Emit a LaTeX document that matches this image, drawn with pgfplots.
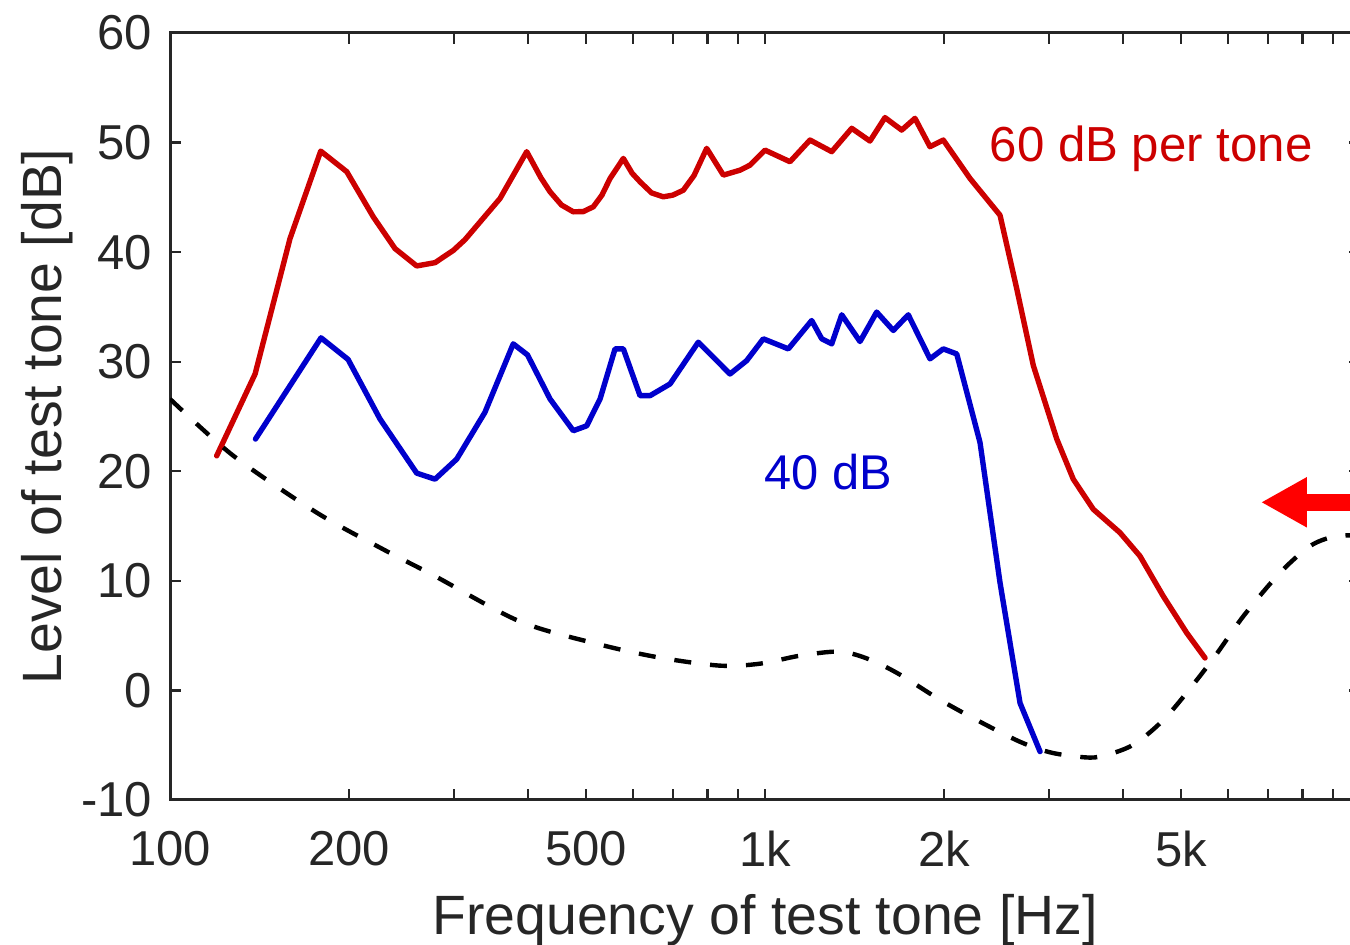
\documentclass[border=0pt]{standalone}
\usepackage{fontspec}
\setmainfont{Liberation Sans}
\usepackage{pgfplots}
\pgfplotsset{compat=1.18}
\usetikzlibrary{arrows.meta}
\definecolor{cred}{RGB}{204,0,0}
\definecolor{cblue}{RGB}{0,0,204}
\definecolor{axgray}{RGB}{38,38,38}
\begin{document}
\begin{tikzpicture}
\begin{axis}[
  scale only axis, width=595pt, height=383.5pt,
  at={(0,0)}, anchor=south west,
  xmode=log, xmin=100, xmax=10000, ymin=-10, ymax=60,
  xtick={100,200,500,1000,2000,5000,10000},
  xticklabels={100,200,500,1k,2k,5k,{}},
  minor xtick={300,400,600,700,800,900,3000,4000,6000,7000,8000,9000},
  ytick={-10,0,10,20,30,40,50,60},
  tick align=inside,
  major tick length=5.5pt, minor tick length=5.5pt,
  axis line style={axgray, line width=1.5pt},
  every tick/.style={axgray, line width=1.2pt},
  tick label style={font=\fontsize{24.5}{28}\selectfont, text=axgray},
  xticklabel style={yshift=-12pt},
  yticklabel style={xshift=-5.5pt},
  /pgf/number format/assume math mode=true,
  xlabel={Frequency of test tone [Hz]},
  ylabel={Level of test tone [dB]},
  label style={font=\fontsize{27.7}{32}\selectfont, text=axgray},
  xlabel style={at={(axis description cs:0.5,-0.176)}, anchor=base},
  ylabel style={at={(axis description cs:-0.0908,0.5)}, anchor=base},
]
% 60 dB per tone
\addplot[cred, line width=2.7pt, line join=round, line cap=round] coordinates {
(119.8,21.41) (139.0,28.88) (159.1,41.23) (179.2,49.22) (198.2,47.34)
(219.6,43.22) (238.9,40.32) (259.8,38.74) (278.9,39.04) (299.4,40.16)
(313.2,41.14) (358.6,44.89) (397.7,49.17) (420,46.8) (435.2,45.51) (455,44.3) (476.2,43.68)
(495,43.7) (514.6,44.14) (532,45.2) (549.0,46.72) (578.0,48.55) (598,47.2) (616.6,46.42) (645,45.4) (674.7,45.05)
(700,45.2) (729.0,45.65) (760,47.0) (798.1,49.47) (851.1,47.03) (907.8,47.48) (943.6,47.94)
(1000,49.31) (1101.5,48.25) (1190.2,50.23) (1294.6,49.17) (1398.7,51.30)
(1501.1,50.14) (1590.9,52.28) (1697.3,51.14) (1786.9,52.21) (1893.7,49.62)
(1993.7,50.23) (2211,46.72) (2483,43.37) (2649,36.66) (2825,29.64)
(3093,22.94) (3297,19.28) (3563,16.53) (3950,14.40) (4268,12.26)
(4670,8.60) (5114,5.25) (5490,2.96)
};
% 40 dB
\addplot[cblue, line width=2.7pt, line join=round, line cap=round] coordinates {
(139.2,22.94) (179.4,32.18) (199.2,30.21) (225.4,24.77) (259.8,19.83)
(278.9,19.28) (303.3,21.11) (338.3,25.38) (377.5,31.63) (398.9,30.62)
(435.2,26.60) (476.2,23.70) (501.6,24.15) (528.2,26.60) (559.7,31.17)
(578.0,31.17) (616.6,26.90) (640.9,26.90) (692.5,27.97) (772.5,31.78)
(808.3,30.71) (873.4,28.88) (931.6,30.10) (993.4,32.09) (1094.4,31.17)
(1198,33.76) (1245.5,32.09) (1294.6,31.63) (1345.7,34.28) (1444.3,31.84)
(1540.6,34.53) (1643,32.85) (1741,34.28) (1893.7,30.26) (1993.7,31.17)
(2100,30.71) (2298,22.63) (2483,9.83) (2683,-1.15) (2899,-5.58)
};
% threshold in quiet
\addplot[black, line width=2.2pt, dash pattern=on 8.5pt off 9.5pt, smooth] coordinates {
(100,26.6) (127.8,21.41) (176.4,16.23) (228.3,12.87) (278.9,10.43)
(387.5,6.29) (528.2,4.18) (666.1,2.99) (840.3,2.26) (980.9,2.44)
(1145,3.17) (1336.8,3.54) (1501,2.81) (1686,1.44) (1968,-0.85)
(2298,-2.86) (2683,-4.69) (3013,-5.65) (3383,-6.07) (3657,-6.04)
(4154,-4.97) (4732,-2.38) (5597,2.51) (6367,6.77) (7338,10.74)
(8241,13.17) (9007,14.03) (9620,14.15) (10000,14.1)
};
\node[text=cred, font=\fontsize{24.6}{28}\selectfont, anchor=base] at (axis cs:4455,48.3) {60 dB per tone};
\node[text=cblue, font=\fontsize{24.4}{28}\selectfont, anchor=base] at (axis cs:1279,18.3) {40 dB};
\draw[-{Triangle[length=23pt,width=23.5pt]}, red, line width=8.5pt] (axis cs:10000,17.17) -- (axis cs:6817,17.17);
\end{axis}
\pgfresetboundingbox
\useasboundingbox (-85pt,-72.5pt) rectangle (590pt,400pt);
\end{tikzpicture}
\end{document}
